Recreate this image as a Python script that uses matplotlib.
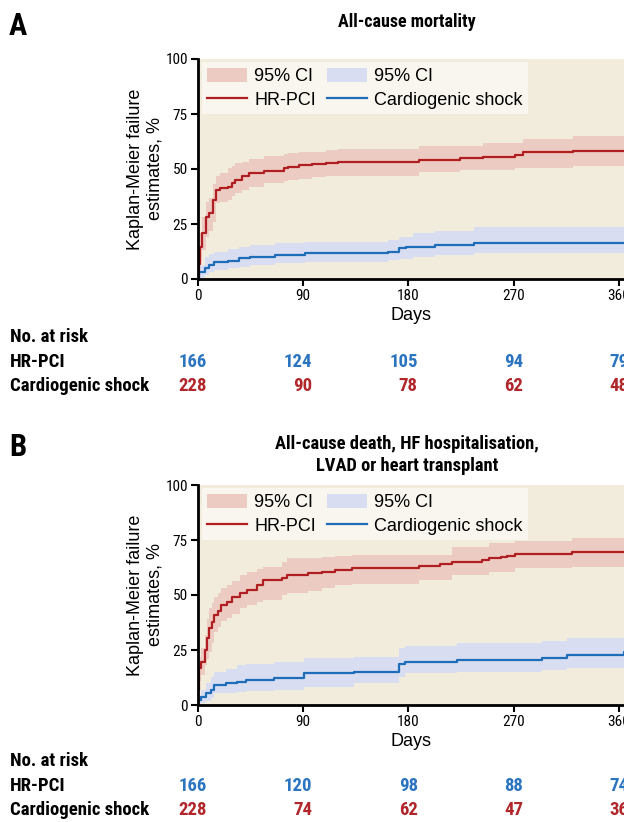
import matplotlib
matplotlib.use("Agg")
import matplotlib.pyplot as plt
from matplotlib import font_manager
from matplotlib.patches import Patch
from matplotlib.lines import Line2D
from matplotlib.transforms import blended_transform_factory

# ---- data ----
# Panel A: all-cause mortality
a_hr_t = [0, 1, 2, 4, 7, 10, 13, 16, 19, 26, 29, 32, 38, 44, 57, 74, 77, 87, 98, 110, 120, 189, 224, 244, 271, 278, 321, 365]
a_hr_km = [0, 7, 14.7, 20.8, 28.4, 30.0, 36.0, 40.5, 41.4, 41.9, 43.7, 45.0, 46.6, 48.2, 49.3, 50.4, 51.1, 51.7, 52.3, 52.9, 53.4, 54.2, 54.9, 55.4, 56.4, 57.5, 58.3, 58.3]
a_hr_lo = [0, 2, 8, 13, 19, 22, 26, 34.4, 35, 36, 37.5, 39, 40.5, 42, 43.5, 44.5, 45, 45.5, 46.3, 46.6, 46.9, 48.8, 49.6, 49.6, 50.4, 50.4, 51.4, 51.4]
a_hr_hi = [0, 12, 21, 28, 35, 37, 43, 46.6, 48, 50.4, 51.5, 52.5, 53.4, 54.6, 55.7, 57, 57.2, 57.5, 57.9, 58.5, 59, 60.5, 60.5, 62, 62, 63.6, 64.8, 64.8]

a_cs_t = [0, 1, 6, 10, 14, 26, 35, 45, 66, 92, 163, 172, 178, 184, 203, 236, 365]
a_cs_km = [1.5, 3.3, 4.9, 6.4, 7.6, 8.3, 9.4, 10.2, 10.9, 11.7, 12.4, 14.0, 14.4, 14.7, 15.5, 16.5, 16.5]
a_cs_lo = [0, 0.5, 1.8, 3, 4.1, 4.8, 5.6, 6.2, 7.1, 7.6, 8.6, 9, 9, 10.2, 10.9, 11.7, 11.7]
a_cs_hi = [3, 6.5, 10, 11.5, 12.4, 13.5, 14.7, 15.3, 16.2, 17, 17.8, 19.3, 19.3, 20.8, 21.8, 23.8, 23.8]

# Panel B: death, HF hospitalisation, LVAD or heart transplant
b_hr_t = [0, 1, 3, 6, 8, 10, 12, 14, 17, 20, 25, 29, 36, 42, 51, 56, 72, 76, 94, 106, 117, 132, 189, 207, 217, 243, 249, 259, 264, 271, 320, 365]
b_hr_km = [6.8, 16.7, 19.7, 25, 30.3, 34.8, 37.9, 40.9, 42.7, 45.5, 46.7, 49.2, 50.8, 52.3, 54.5, 56.8, 57.9, 59.1, 59.8, 60.6, 61.4, 62.1, 63.2, 63.9, 64.8, 65.9, 66.7, 67.4, 67.9, 68.5, 69.4, 69.4]
b_hr_lo = [3, 11, 13.5, 18, 21, 24.2, 28, 33.3, 35.5, 38, 39.4, 41.5, 44, 45.5, 47, 47.7, 50, 50.8, 52, 53, 54.5, 55, 56.8, 56.8, 59.1, 59.1, 60.6, 60.6, 60.6, 62.1, 62.9, 62.9]
b_hr_hi = [11, 22, 26, 32, 39, 43.9, 46.5, 49.2, 51, 53, 54.5, 56.5, 59, 60.5, 62, 62.9, 65, 66.7, 67, 67.4, 67.6, 68, 68.2, 68.2, 72, 72, 73.5, 73.5, 73.5, 74.5, 75.8, 75.8]

b_cs_t = [0, 3, 7, 11, 14, 24, 34, 41, 65, 91, 134, 172, 177, 222, 294, 316, 364, 365]
b_cs_km = [2.3, 3.8, 5.3, 6.8, 9.1, 9.8, 10.6, 11.4, 12.1, 14.4, 15.2, 18.5, 19.4, 20.5, 21.5, 22.7, 23.9, 23.9]
b_cs_lo = [0, 0.8, 1.8, 3, 5.3, 5.6, 6, 6.3, 6.8, 8.3, 9.8, 12.9, 14.4, 15.2, 15.9, 16.7, 17.3, 17.3]
b_cs_hi = [4.5, 7, 10, 12.5, 15.2, 16.5, 18.2, 18.8, 19.7, 21.2, 22, 25.8, 27, 28, 29.1, 30.3, 31.5, 31.5]

risk_days = [0, 90, 180, 270, 360]
a_risk_hr = [166, 124, 105, 94, 79]
a_risk_cs = [228, 90, 78, 62, 48]
b_risk_hr = [166, 120, 98, 88, 74]
b_risk_cs = [228, 74, 62, 47, 36]

titles = ["All-cause mortality", "All-cause death, HF hospitalisation,\nLVAD or heart transplant"]

# ---- fonts ----
names = {f.name for f in font_manager.fontManager.ttflist}


def pick(cands):
    for c in cands:
        if c in names:
            return c
    return "DejaVu Sans"


NARROW = pick(["Roboto Condensed", "Archivo Narrow", "Barlow Condensed", "PT Sans Narrow",
               "Liberation Sans Narrow"])
REG = pick(["Liberation Sans", "Arimo"])

RED = "#b01e22"
BLUE = "#1f6cb8"
RED_CI = "#ecccc2"
BLUE_CI = "#d8ddf1"
NUM_BLUE = "#2a74c0"
NUM_RED = "#b0262b"
BG = "#f1ecdc"
W, H = 624, 822

fig = plt.figure(figsize=(W / 100, H / 100), dpi=100)
fig.patch.set_facecolor("white")


def draw_panel(top_px, t_hr, km_hr, lo_hr, hi_hr, t_cs, km_cs, lo_cs, hi_cs):
    left, bottom = 197.7, top_px + 220
    ax = fig.add_axes([left / W, 1 - bottom / H, (W - left) / W, 220 / H])
    ax.set_facecolor(BG)
    ax.fill_between(t_hr, lo_hr, hi_hr, step="post", color=RED_CI, lw=0)
    ax.fill_between(t_cs, lo_cs, hi_cs, step="post", color=BLUE_CI, lw=0)
    ax.step(t_hr, km_hr, where="post", color=RED, lw=1.6)
    ax.step(t_cs, km_cs, where="post", color=BLUE, lw=1.6)
    ax.set_xlim(0, (W - left) / 1.17)
    ax.set_ylim(0, 100)
    ax.set_xticks([0, 90, 180, 270, 360])
    ax.set_yticks([0, 25, 50, 75, 100])
    for s in ["top", "right"]:
        ax.spines[s].set_visible(False)
    for s in ["left", "bottom"]:
        ax.spines[s].set_linewidth(2)
    ax.tick_params(length=5, width=1.5, pad=2, labelsize=11)
    for lab in ax.get_xticklabels() + ax.get_yticklabels():
        lab.set_fontfamily(NARROW)
    ax.set_ylabel("Kaplan-Meier failure\nestimates, %", fontsize=13, family=REG, linespacing=1.2)
    ax.yaxis.set_label_coords(-0.08, 0.5)
    ax.set_xlabel("Days", fontsize=13, family=REG)
    ax.xaxis.set_label_coords(0.5, -0.125)

    handles = [Patch(facecolor=RED_CI, edgecolor="none"),
               Line2D([], [], color=RED, lw=1.6),
               Patch(facecolor=BLUE_CI, edgecolor="none"),
               Line2D([], [], color=BLUE, lw=1.6)]
    labels = ["95% CI", "HR-PCI", "95% CI", "Cardiogenic shock"]
    ax.legend(handles, labels, ncol=2, loc="upper left", bbox_to_anchor=(0.01, 0.985),
              borderaxespad=0, prop={"family": REG, "size": 13}, fancybox=False,
              frameon=True, facecolor="#f8f6ee", edgecolor="none", framealpha=1,
              handlelength=2.2, handleheight=0.85, handletextpad=0.4,
              columnspacing=0.6, labelspacing=0.35, borderpad=0.3)
    return ax


def risk_table(ax, y_px, hr_vals, cs_vals):
    tr = blended_transform_factory(ax.transData, fig.transFigure)
    kw = dict(family=NARROW, weight="bold", fontsize=13.5, va="center")
    fig.text(10 / W, 1 - y_px / H, "No. at risk", ha="left", **kw)
    fig.text(10 / W, 1 - (y_px + 25) / H, "HR-PCI", ha="left", **kw)
    fig.text(10 / W, 1 - (y_px + 49) / H, "Cardiogenic shock", ha="left", **kw)
    for d, v1, v2 in zip(risk_days, hr_vals, cs_vals):
        ax.text(d + 8, 1 - (y_px + 25) / H, str(v1), transform=tr, ha="right",
                color=NUM_BLUE, clip_on=False, **kw)
        ax.text(d + 8, 1 - (y_px + 49) / H, str(v2), transform=tr, ha="right",
                color=NUM_RED, clip_on=False, **kw)


axA = draw_panel(59, a_hr_t, a_hr_km, a_hr_lo, a_hr_hi, a_cs_t, a_cs_km, a_cs_lo, a_cs_hi)
axB = draw_panel(485, b_hr_t, b_hr_km, b_hr_lo, b_hr_hi, b_cs_t, b_cs_km, b_cs_lo, b_cs_hi)

risk_table(axA, 337, a_risk_hr, a_risk_cs)
risk_table(axB, 761, b_risk_hr, b_risk_cs)

fig.text(18 / W, 1 - 26 / H, "A", family=NARROW, weight="bold", fontsize=22, ha="center", va="center")
fig.text(18 / W, 1 - 447 / H, "B", family=NARROW, weight="bold", fontsize=22, ha="center", va="center")
fig.text(407 / W, 1 - 22 / H, titles[0], family=NARROW, weight="bold", fontsize=13, ha="center", va="center")
fig.text(407 / W, 1 - 455 / H, titles[1], family=NARROW, weight="bold", fontsize=13.3,
         ha="center", va="center", linespacing=1.3)

fig.savefig("out.png", dpi=100)
